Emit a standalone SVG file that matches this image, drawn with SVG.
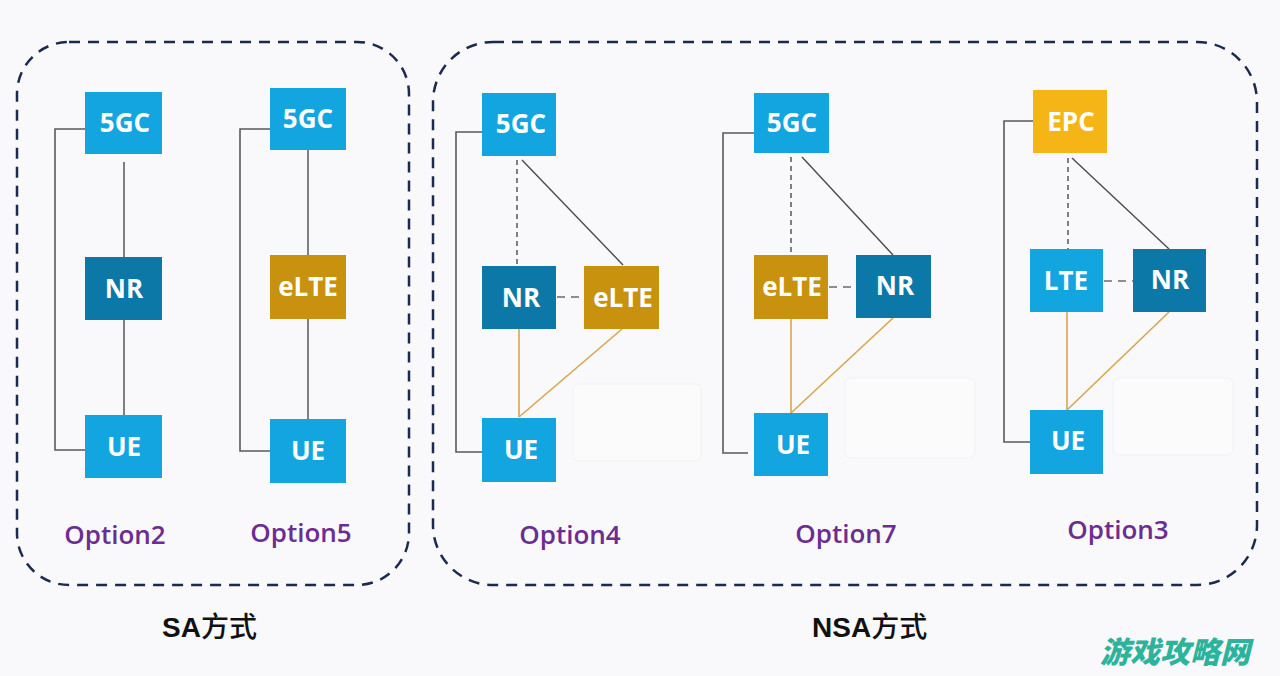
<svg xmlns="http://www.w3.org/2000/svg" width="1280" height="676" viewBox="0 0 1280 676">
<style>
.bg{fill:#f9f9fb}
.frame{fill:none;stroke:#1b2a4e;stroke-width:2.5;stroke-dasharray:11 8}
.ghost{fill:#fbfbfc;stroke:#f1f1f4;stroke-width:1}
.lb{fill:#13a5e0}
.db{fill:#0b78a8}
.gd{fill:#c8920f}
.ep{fill:#f6b516}
.nt{font-family:"Open Sans","Liberation Sans",sans-serif;font-weight:700;font-size:26px;fill:#ffffff;text-anchor:middle}
.opt{font-family:"Open Sans","Liberation Sans",sans-serif;font-weight:600;font-size:26px;fill:#6b2d91;text-anchor:middle}
.cap{font-family:"Liberation Sans","Noto Sans CJK SC",sans-serif;font-weight:700;font-size:28px;fill:#111111}
.cj{font-family:"Noto Sans CJK SC",sans-serif;font-weight:500}
.wm{font-family:"Noto Sans CJK SC",sans-serif;font-weight:900;font-style:italic;font-size:30px;fill:#2db39b}
.br{fill:none;stroke:#5a5a5e;stroke-width:1.6}
.sl{stroke:#4a4a50;stroke-width:1.4;fill:none}
.dl{stroke:#4a4a50;stroke-width:1.4;stroke-dasharray:5 4;fill:none}
.hd{stroke:#6a6a70;stroke-width:1.4;stroke-dasharray:8 6;fill:none}
.ol{stroke:#d9a54a;stroke-width:1.6;fill:none}
</style>
<rect class="bg" x="0" y="0" width="1280" height="676"/>
<g id="frames">
<rect class="frame" x="17" y="42" width="392" height="543" rx="52"/>
<rect class="frame" x="433" y="42" width="824" height="543" rx="60"/>
<rect class="ghost" x="573" y="384" width="128" height="77" rx="6"/>
<rect class="ghost" x="845" y="378" width="130" height="80" rx="6"/>
<rect class="ghost" x="1113" y="378" width="120" height="77" rx="6"/>
</g>
<g id="connectors">
<polyline class="br" points="85,129 55,129 55,450 85,450"/>
<line class="sl" x1="124" y1="162" x2="124" y2="257"/>
<line class="sl" x1="124" y1="320" x2="124" y2="415"/>
<polyline class="br" points="270,129 240,129 240,451 270,451"/>
<line class="sl" x1="308" y1="150" x2="308" y2="255"/>
<line class="sl" x1="308" y1="319" x2="308" y2="419"/>
<polyline class="br" points="482,132 456,132 456,452 482,452"/>
<line class="dl" x1="517" y1="160" x2="517" y2="266"/>
<line class="sl" x1="522" y1="160" x2="623" y2="265"/>
<line class="hd" x1="557" y1="297" x2="584" y2="297"/>
<line class="ol" x1="519" y1="329" x2="519" y2="417"/>
<line class="ol" x1="622" y1="329" x2="519" y2="417"/>
<polyline class="br" points="754,133 723,133 723,453 748,453"/>
<line class="dl" x1="791" y1="157" x2="791" y2="255"/>
<line class="sl" x1="802" y1="157" x2="893" y2="255"/>
<line class="hd" x1="829" y1="287" x2="856" y2="287"/>
<line class="ol" x1="791" y1="319" x2="791" y2="413"/>
<line class="ol" x1="893" y1="318" x2="791" y2="413"/>
<polyline class="br" points="1033,121 1004,121 1004,442 1030,442"/>
<line class="dl" x1="1068" y1="158" x2="1068" y2="249"/>
<line class="sl" x1="1072" y1="158" x2="1169" y2="249"/>
<line class="hd" x1="1104" y1="281" x2="1133" y2="281"/>
<line class="ol" x1="1067" y1="312" x2="1067" y2="410"/>
<line class="ol" x1="1169" y1="312" x2="1067" y2="410"/>
</g>
<g id="o2-5gc"><rect class="lb" x="85" y="92" width="77" height="62"/><text class="nt" x="125" y="132">5GC</text></g>
<g id="o2-nr"><rect class="db" x="85" y="257" width="77" height="63"/><text class="nt" x="124" y="298">NR</text></g>
<g id="o2-ue"><rect class="lb" x="85" y="415" width="77" height="63"/><text class="nt" x="124" y="456">UE</text></g>
<g id="o5-5gc"><rect class="lb" x="270" y="88" width="76" height="62"/><text class="nt" x="308" y="128">5GC</text></g>
<g id="o5-elte"><rect class="gd" x="270" y="255" width="76" height="64"/><text class="nt" x="308" y="296">eLTE</text></g>
<g id="o5-ue"><rect class="lb" x="270" y="419" width="76" height="64"/><text class="nt" x="308" y="460">UE</text></g>
<g id="o4-5gc"><rect class="lb" x="482" y="93" width="74" height="63"/><text class="nt" x="521" y="133">5GC</text></g>
<g id="o4-nr"><rect class="db" x="482" y="266" width="74" height="63"/><text class="nt" x="521" y="307">NR</text></g>
<g id="o4-elte"><rect class="gd" x="584" y="266" width="75" height="63"/><text class="nt" x="623" y="307">eLTE</text></g>
<g id="o4-ue"><rect class="lb" x="482" y="418" width="74" height="64"/><text class="nt" x="521" y="459">UE</text></g>
<g id="o7-5gc"><rect class="lb" x="754" y="93" width="75" height="60"/><text class="nt" x="792" y="132">5GC</text></g>
<g id="o7-elte"><rect class="gd" x="754" y="255" width="74" height="64"/><text class="nt" x="792" y="296">eLTE</text></g>
<g id="o7-nr"><rect class="db" x="856" y="255" width="75" height="63"/><text class="nt" x="895" y="295">NR</text></g>
<g id="o7-ue"><rect class="lb" x="754" y="413" width="74" height="63"/><text class="nt" x="793" y="454">UE</text></g>
<g id="o3-epc"><rect class="ep" x="1033" y="90" width="74" height="63"/><text class="nt" x="1071" y="131">EPC</text></g>
<g id="o3-lte"><rect class="lb" x="1030" y="249" width="73" height="63"/><text class="nt" x="1066" y="290">LTE</text></g>
<g id="o3-nr"><rect class="db" x="1133" y="249" width="73" height="63"/><text class="nt" x="1170" y="289">NR</text></g>
<g id="o3-ue"><rect class="lb" x="1030" y="410" width="73" height="64"/><text class="nt" x="1068" y="450">UE</text></g>
<g id="labels">
<text class="opt" x="115" y="544">Option2</text>
<text class="opt" x="301" y="542">Option5</text>
<text class="opt" x="570" y="544">Option4</text>
<text class="opt" x="846" y="543">Option7</text>
<text class="opt" x="1118" y="539">Option3</text>
<text class="cap" x="162" y="637">SA<tspan class="cj">方式</tspan></text>
<text class="cap" x="812" y="637">NSA<tspan class="cj">方式</tspan></text>
<text class="wm" x="1100" y="663">游戏攻略网</text>
</g>
</svg>
